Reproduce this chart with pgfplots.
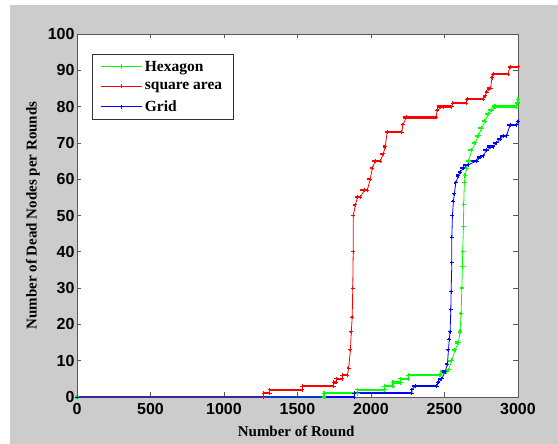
\documentclass[border=0pt]{standalone}
\usepackage{fontspec}
\setmainfont{Liberation Serif}
\setsansfont{Liberation Sans}
\usepackage{pgfplots}
\pgfplotsset{compat=1.18}
\usepackage{pgfplotstable}

\definecolor{figgray}{RGB}{204,204,204}
\definecolor{hexgreen}{RGB}{0,255,0}
\definecolor{sqred}{RGB}{255,0,0}
\definecolor{gridblue}{RGB}{0,0,255}

% Dead nodes versus round, one table per deployment
\pgfplotstableread{
x y
0 0
1680 0
1680 1
1907 1
1907 2
2093 2
2093 3
2150 3
2150 4
2200 4
2200 5
2253 5
2253 6
2470 6
2516 7
2527 7.5
2550 10
2572 13
2595 15
2606 18
2613 23
2618 30
2622 36
2624 40
2629 47
2631 53
2635 59
2640 61
2651 63
2663 65
2686 68
2708 70
2730 72
2753 74
2776 76
2798 78
2821 79
2844 80
2991 80
2997 81
3000 82
}\hexagon

\pgfplotstableread{
x y
0 0
1269 0
1269 1
1310 1
1310 2
1534 2
1534 3
1745 3
1745 4
1765 4
1765 5
1805 5
1805 6
1840 6
1848 8
1860 13
1866 18
1872 22
1876 30
1879 40
1880 50
1894 53
1908 55
1927 55
1955 57
1975 57
1995 60
2009 63
2029 65
2063 65
2084 67
2097 69
2110 73
2210 73
2217 75
2240 77
2443 77
2450 79
2491 80
2550 80
2557 81
2647 81
2654 82
2764 82
2776 83
2787 84
2814 85
2823 88
2830 89
2932 89
2946 91
3000 91
}\square

\pgfplotstableread{
x y
0 0
1887 0
1887 1
2278 1
2278 2
2301 3
2448 3
2459 4
2482 5
2504 7
2520 9
2527 13
2533 16
2538 18
2543 24
2545 29
2550 37
2550 44
2554 50
2561 54
2567 56
2577 59
2595 61
2606 62
2629 63
2663 64
2719 65
2742 66
2764 66.5
2787 68
2832 69
2855 70
2878 71
2900 72
2923 72
2946 75
2990 75
3000 76
}\grid

\begin{document}
\begin{tikzpicture}[x=1pt,y=1pt]
\fill[white] (-77,-47) rectangle (481,397);
\fill[figgray] (-67,-47) rectangle (481,392);
\useasboundingbox (-77,-47) rectangle (481,397);
\begin{axis}[
  at={(0,0)}, anchor=south west,
  scale only axis, width=441pt, height=363pt,
  xmin=0, xmax=3000, ymin=0, ymax=100,
  xtick={0,500,...,3000}, ytick={0,10,...,100},
  tick align=inside, major tick length=4.5pt,
  axis background/.style={fill=white},
  axis line style={draw=black!65, line width=0.9pt},
  tick style={draw=black!65, line width=0.6pt},
  ticklabel style={font=\sffamily\bfseries\fontsize{16}{16}\selectfont},
  xticklabel style={yshift=-2.5pt},
  yticklabel style={xshift=1pt},
  /pgf/number format/assume math mode=true,
  /pgf/number format/1000 sep={},
  xlabel={Number of Round},
  ylabel={Number of Dead Nodes per Rounds},
  label style={font=\bfseries\fontsize{15}{15}\selectfont},
  xlabel style={at={(axis description cs:0.497,-0.094)}, anchor=center},
  ylabel style={at={(axis description cs:-0.1,0.5)}, anchor=center},
  clip=false,
  legend cell align=left,
  legend style={at={(axis description cs:0.0333,0.945)}, anchor=north west,
    draw=black!80, line width=0.8pt, fill=white,
    font=\bfseries\fontsize{15.5}{15.5}\selectfont,
    row sep=5.5pt, inner xsep=9pt, inner ysep=4.5pt},
  legend image code/.code={%
    \draw[#1, mark repeat=2, mark phase=2] plot coordinates {(0pt,0pt) (20pt,0pt) (41pt,0pt)};},
]
% thick bands along the flat stretches
\addplot[hexgreen, line width=2.2pt, jump mark right, forget plot] table {\hexagon};
\addplot[sqred, line width=2.2pt, jump mark right, forget plot] table {\square};
\addplot[gridblue, line width=2.2pt, jump mark right, forget plot] table {\grid};
% curves with markers
\addplot[hexgreen, line width=0.8pt, mark=+, mark size=2.2pt, mark options={line width=1.2pt}] table {\hexagon};
\addlegendentry{Hexagon}
\addplot[sqred, line width=0.8pt, mark=+, mark size=2pt, mark options={line width=0.8pt}] table {\square};
\addlegendentry{square area}
\addplot[gridblue, line width=0.8pt, mark=+, mark size=2pt, mark options={line width=0.8pt}] table {\grid};
\addlegendentry{Grid}
\end{axis}
\end{tikzpicture}
\end{document}
